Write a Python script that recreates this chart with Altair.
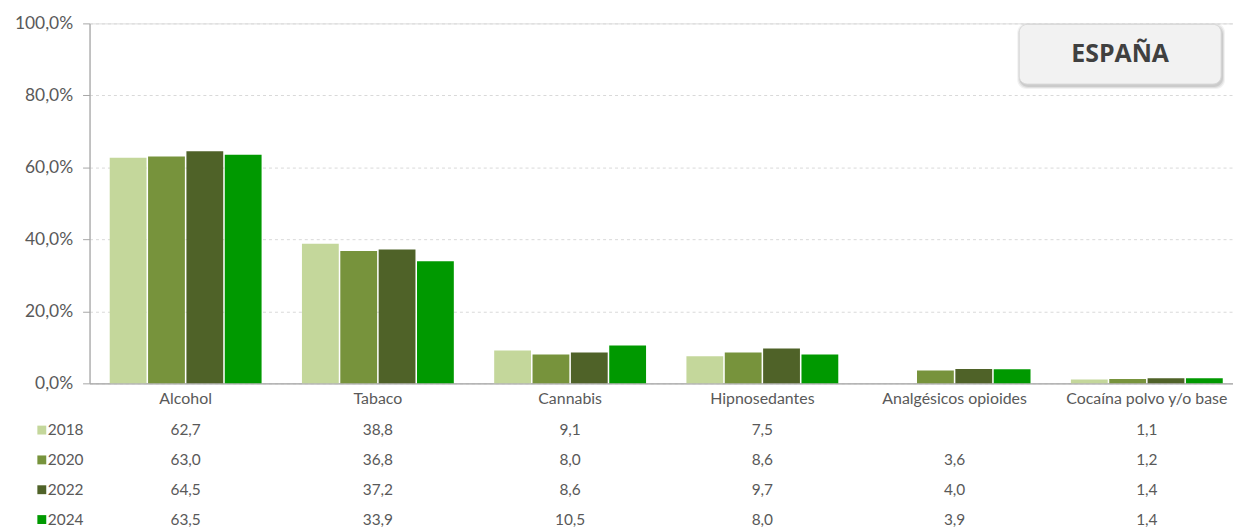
import altair as alt
import pandas as pd

categorias = ["Alcohol", "Tabaco", "Cannabis", "Hipnosedantes",
              "Analgésicos opioides", "Cocaína polvo y/o base"]
years = ["2018", "2020", "2022", "2024"]
v2018 = [62.7, 38.8, 9.1, 7.5, None, 1.1]
v2020 = [63.0, 36.8, 8.0, 8.6, 3.6, 1.2]
v2022 = [64.5, 37.2, 8.6, 9.7, 4.0, 1.4]
v2024 = [63.5, 33.9, 10.5, 8.0, 3.9, 1.4]
colors = ["#C4D79B", "#77933C", "#4F6228", "#009900"]
titulo = "ESPAÑA"

rows = []
for y, vals in zip(years, [v2018, v2020, v2022, v2024]):
    for c, v in zip(categorias, vals):
        if v is not None:
            rows.append({"cat": c, "year": y, "valor": v,
                         "label": f"{v:.1f}".replace(".", ",")})
df = pd.DataFrame(rows)
df_years = pd.DataFrame({"year": years})
df_one = pd.DataFrame({"t": [titulo]})

FONT = "Lato"
GRAY = "#595959"

xenc = alt.X("cat:N", sort=categorias,
             scale=alt.Scale(range=[0, 1160], paddingInner=0.21, paddingOuter=0.105),
             axis=alt.Axis(title=None, labelFontSize=16, ticks=False, labelPadding=7,
                           labelAngle=0, labelColor=GRAY, labelFont=FONT,
                           domainColor="#A6A6A6", domainWidth=1.2))
color = alt.Color("year:N", scale=alt.Scale(domain=years, range=colors), legend=None)

bars = alt.Chart(df).mark_bar().encode(
    x=xenc,
    xOffset=alt.XOffset("year:N", sort=years, scale=alt.Scale(paddingInner=0.04, paddingOuter=0)),
    y=alt.Y("valor:Q", scale=alt.Scale(domain=[0, 100]),
            axis=alt.Axis(title=None, values=[0, 20, 40, 60, 80, 100],
                          labelExpr="replace(format(datum.value, '.1f'), '.', ',') + '%'",
                          labelFontSize=17.5, labelColor=GRAY, labelFont=FONT,
                          tickSize=7, tickColor="#A6A6A6", labelPadding=10,
                          domainColor="#A6A6A6", domainWidth=1.2,
                          grid=True, gridDash=[3, 3], gridColor="#D9D9D9")),
    color=color,
)

yrow = alt.Y("year:O", sort=years, scale=alt.Scale(range=[409, 499], padding=0), axis=None)

table = alt.Chart(df).mark_text(fontSize=15.5, color=GRAY, font=FONT, baseline="middle").encode(
    x=xenc, y=yrow, text="label:N")

squares = alt.Chart(df_years).mark_square(size=80, opacity=1).encode(
    x=alt.value(-48), y=yrow, color=color)

ylabels = alt.Chart(df_years).mark_text(fontSize=15.5, color=GRAY, font=FONT,
                                        align="left", baseline="middle").encode(
    x=alt.value(-42), y=yrow, text="year:N")

BX0, BX1, BY0, BY1 = 935, 1138, 1, 61
shadows = []
for i, op in enumerate([0.05, 0.07, 0.09]):
    d = 3 - i
    shadows.append(alt.Chart(df_one).mark_rect(cornerRadius=9, color="#000000", opacity=op).encode(
        x=alt.value(BX0 - d + 1), x2=alt.value(BX1 + d + 1),
        y=alt.value(BY0 - d + 2), y2=alt.value(BY1 + d + 2)))

box = alt.Chart(df_one).mark_rect(cornerRadius=8, fill="#F2F2F2", stroke="#D9D9D9",
                                  strokeWidth=1).encode(
    x=alt.value(BX0), x2=alt.value(BX1), y=alt.value(BY0), y2=alt.value(BY1))
boxtext = alt.Chart(df_one).mark_text(fontSize=25, fontWeight="bold", color="#404040",
                                      font="Open Sans", baseline="middle").encode(
    x=alt.value((BX0 + BX1) / 2), y=alt.value(31), text="t:N")

chart = alt.layer(bars, table, squares, ylabels, *shadows, box, boxtext).resolve_scale(
    y="independent"
).properties(
    width=1150, height=362,
    autosize=alt.AutoSizeParams(type="none"),
    padding={"left": 82, "top": 14, "right": 0, "bottom": 144},
).configure_view(stroke=None).configure(background="white")

chart.save("out.html", embed_options={"renderer": "svg", "actions": False})
